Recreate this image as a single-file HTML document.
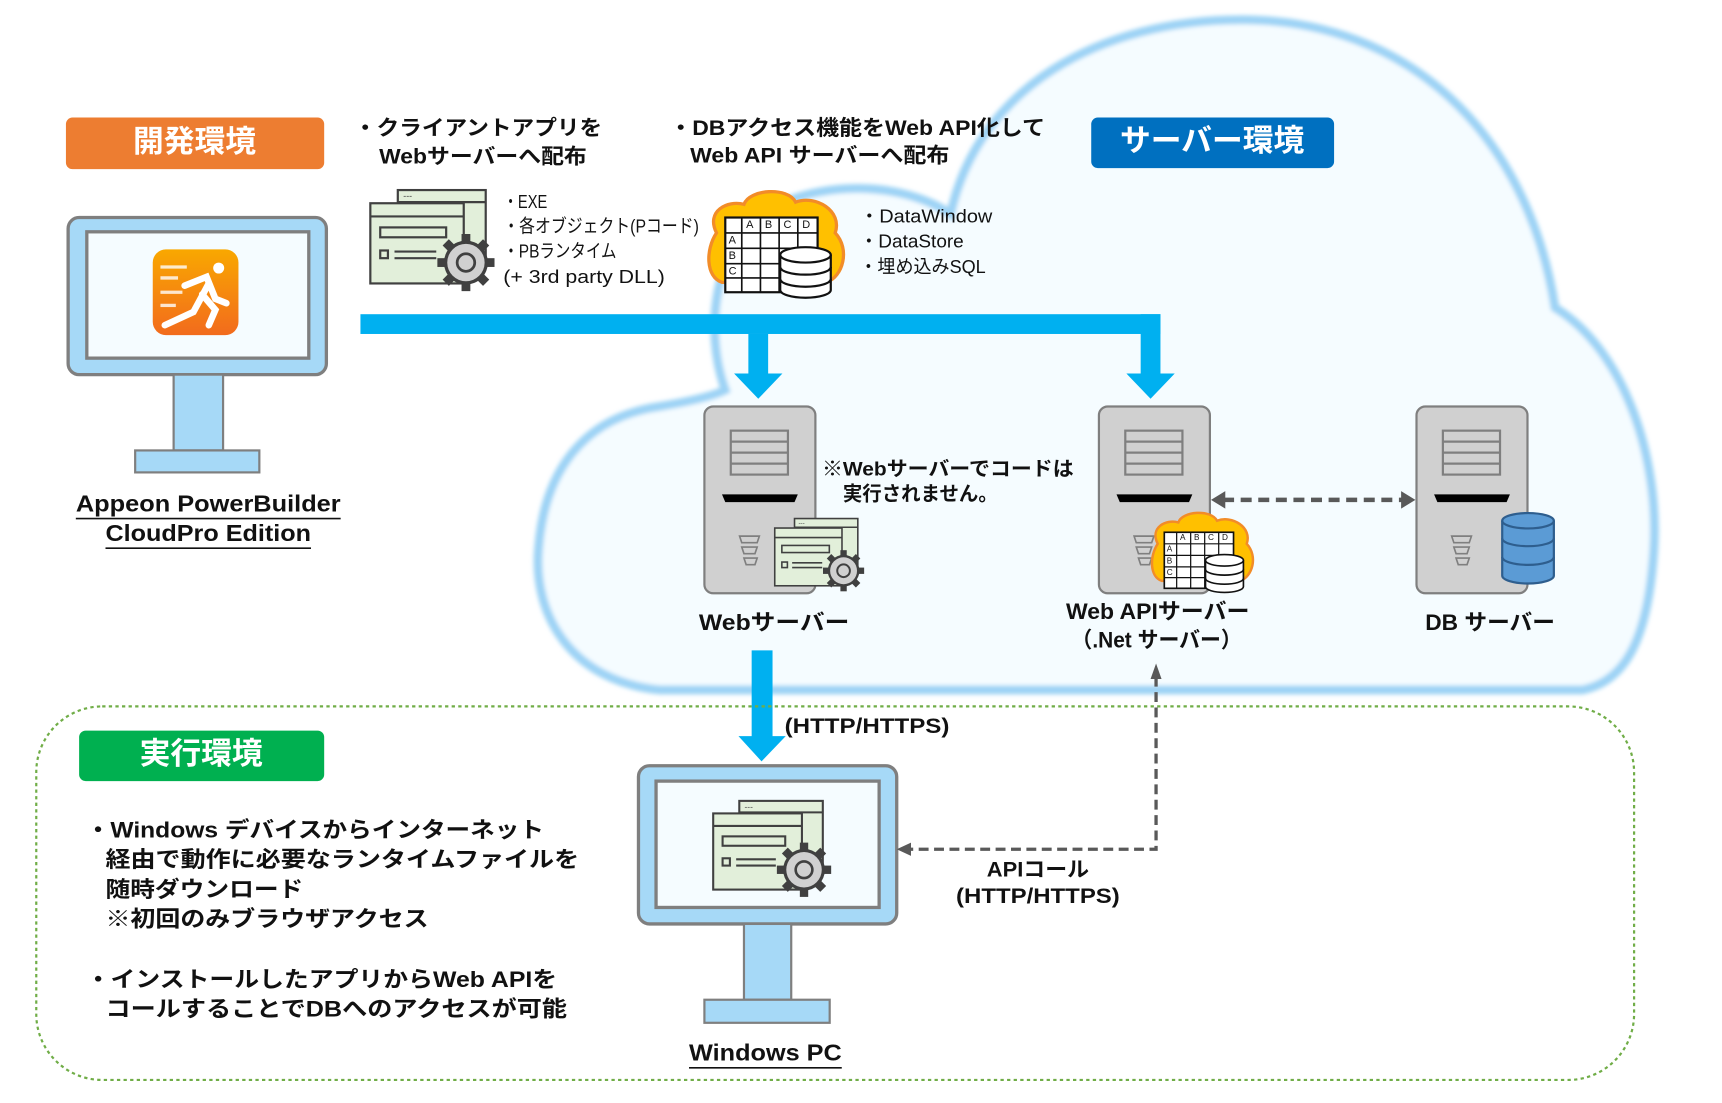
<!DOCTYPE html>
<html><head><meta charset="utf-8"><style>
html,body{margin:0;padding:0;background:#fff;}
svg{display:block;}
text{font-family:"Liberation Sans","Noto Sans CJK JP",sans-serif;fill:#111;dominant-baseline:middle;}
</style></head><body>
<svg width="1722" height="1103" viewBox="0 0 1567 1004" preserveAspectRatio="none" xmlns="http://www.w3.org/2000/svg">
<defs>
<filter id="bl" x="-5%" y="-5%" width="110%" height="110%"><feGaussianBlur stdDeviation="2"/></filter>
<linearGradient id="og" x1="0" y1="0" x2="0" y2="1"><stop offset="0" stop-color="#F9A800"/><stop offset="1" stop-color="#F26B1D"/></linearGradient>
<g id="app">
<rect x="25" y="0" width="80" height="70" fill="#E2EFDA" stroke="#404040" stroke-width="2"/>
<line x1="25" y1="11" x2="105" y2="11" stroke="#404040" stroke-width="2"/>
<text x="30" y="6" font-size="8" style="fill:#404040">---</text>
<rect x="0" y="12" width="85" height="73" fill="#E2EFDA" stroke="#404040" stroke-width="2"/>
<line x1="0" y1="24" x2="85" y2="24" stroke="#404040" stroke-width="2"/>
<rect x="9" y="34" width="60" height="9" fill="none" stroke="#404040" stroke-width="2"/>
<rect x="9" y="55" width="7" height="7" fill="none" stroke="#404040" stroke-width="2"/>
<line x1="22" y1="56" x2="60" y2="56" stroke="#404040" stroke-width="2"/>
<line x1="22" y1="62" x2="60" y2="62" stroke="#404040" stroke-width="2"/>
<g transform="translate(87,66)">
<circle r="20" fill="#404040"/>
<rect x="-4" y="-26" width="8" height="52" fill="#404040"/>
<rect x="-26" y="-4" width="52" height="8" fill="#404040"/>
<rect x="-4" y="-26" width="8" height="52" fill="#404040" transform="rotate(45)"/>
<rect x="-4" y="-26" width="8" height="52" fill="#404040" transform="rotate(-45)"/>
<circle r="17" fill="#D0D0D0"/>
<circle r="8" fill="none" stroke="#404040" stroke-width="2.5"/>
</g>
</g>
<g id="grid">
<path d="M10 40 C0 20,20 10,35 14 C40 0,75 -2,82 12 C100 5,125 20,118 40 C132 55,125 80,110 85 L15 85 C0 80,0 55,10 40Z" fill="#FFC000" stroke="#F28C28" stroke-width="3"/>
<rect x="18" y="26" width="84" height="68" fill="#fff" stroke="#111" stroke-width="2"/>
<g stroke="#111" stroke-width="1.5">
<line x1="18" y1="40" x2="102" y2="40"/><line x1="18" y1="54" x2="102" y2="54"/><line x1="18" y1="68" x2="102" y2="68"/><line x1="18" y1="81" x2="102" y2="81"/>
<line x1="33" y1="26" x2="33" y2="94"/><line x1="50" y1="26" x2="50" y2="94"/><line x1="67" y1="26" x2="67" y2="94"/><line x1="84" y1="26" x2="84" y2="94"/>
</g>
<text x="37" y="33" font-size="10">A</text><text x="54" y="33" font-size="10">B</text><text x="71" y="33" font-size="10">C</text><text x="88" y="33" font-size="10">D</text>
<text x="21" y="47" font-size="10">A</text><text x="21" y="61" font-size="10">B</text><text x="21" y="75" font-size="10">C</text>
<g fill="#fff" stroke="#111" stroke-width="2">
<path d="M68 60 L68 92 A23 7 0 0 0 114 92 L114 60"/>
<ellipse cx="91" cy="60" rx="23" ry="7"/>
<path d="M68 71 A23 7 0 0 0 114 71" fill="none"/><path d="M68 82 A23 7 0 0 0 114 82" fill="none"/>
</g>
</g>
<g id="srv">
<rect x="0" y="0" width="101" height="170" rx="8" fill="#D0D0D0" stroke="#7F7F7F" stroke-width="2"/>
<rect x="24" y="22" width="52" height="40" fill="#D0D0D0" stroke="#7F7F7F" stroke-width="2"/>
<line x1="24" y1="32" x2="76" y2="32" stroke="#7F7F7F" stroke-width="2"/><line x1="24" y1="42" x2="76" y2="42" stroke="#7F7F7F" stroke-width="2"/><line x1="24" y1="52" x2="76" y2="52" stroke="#7F7F7F" stroke-width="2"/>
<path d="M16 80 L85 80 L82 87 L19 87Z" fill="#000"/>
<path d="M32 118 L50 118 L48 124 L34 124Z M34 128 L48 128 L46 134 L36 134Z M36 138 L48 138 L46 144 L38 144Z" fill="none" stroke="#7F7F7F" stroke-width="1.5"/>
</g>
</defs>

<!-- cloud -->
<path d="M600 628 C520 620,485 560,490 500 C495 430,530 380,600 370 C630 365,650 360,660 355 C640 300,650 220,700 190 C760 160,830 170,865 195 C890 80,1000 18,1130 18 C1280 18,1390 120,1415 280 C1480 320,1510 420,1505 500 C1500 580,1480 620,1440 628 Z" fill="#F5FCFF" stroke="#9DD3F5" stroke-width="8" filter="url(#bl)"/>

<!-- labels -->
<rect x="60" y="107" width="235" height="47" rx="6" fill="#ED7D31"/>
<text x="177" y="131" font-size="28" font-weight="bold" text-anchor="middle" style="fill:#fff">開発環境</text>
<rect x="993" y="107" width="221" height="46" rx="6" fill="#0070C0"/>
<text x="1103" y="130" font-size="28" font-weight="bold" text-anchor="middle" style="fill:#fff">サーバー環境</text>
<rect x="72" y="665" width="223" height="46" rx="6" fill="#00B050"/>
<text x="183" y="688" font-size="28" font-weight="bold" text-anchor="middle" style="fill:#fff">実行環境</text>

<g font-size="19" font-weight="bold" lengthAdjust="spacingAndGlyphs">
<text x="322" y="118" textLength="226" lengthAdjust="spacingAndGlyphs">・クライアントアプリを</text>
<text x="345" y="144" textLength="189" lengthAdjust="spacingAndGlyphs">Webサーバーへ配布</text>
<text x="609" y="118" textLength="342" lengthAdjust="spacingAndGlyphs">・DBアクセス機能をWeb API化して</text>
<text x="628" y="143" textLength="236" lengthAdjust="spacingAndGlyphs">Web API サーバーへ配布</text>
</g>

<!-- dev monitor -->
<rect x="62" y="198" width="235" height="143" rx="10" fill="#A6D9F7" stroke="#7F7F7F" stroke-width="3"/>
<rect x="79" y="211" width="202" height="115" fill="#F5FCFF" stroke="#7F7F7F" stroke-width="3"/>
<rect x="158" y="341" width="45" height="69" fill="#A6D9F7" stroke="#7F7F7F" stroke-width="2"/>
<rect x="123" y="410" width="113" height="20" fill="#A6D9F7" stroke="#7F7F7F" stroke-width="2"/>
<rect x="139" y="227" width="78" height="78" rx="12" fill="url(#og)"/>
<g stroke="#fff" stroke-width="6" stroke-linecap="round" fill="none">
<circle cx="199" cy="244" r="5" fill="#fff" stroke="none"/>
<path d="M168 260 L188 252 L196 272 L206 276"/>
<path d="M190 258 L176 284 L150 296"/>
<path d="M184 268 L196 282 L190 296"/>
</g>
<g stroke="#fff" stroke-width="3" opacity=".8"><line x1="146" y1="243" x2="170" y2="243"/><line x1="146" y1="253" x2="162" y2="253"/><line x1="146" y1="266" x2="166" y2="266"/><line x1="146" y1="278" x2="160" y2="278"/></g>
<text x="69" y="460" font-size="21" font-weight="bold" textLength="241" lengthAdjust="spacingAndGlyphs">Appeon PowerBuilder</text>
<text x="96" y="487" font-size="21" font-weight="bold" textLength="187" lengthAdjust="spacingAndGlyphs">CloudPro Edition</text>
<line x1="69" y1="472" x2="310" y2="472" stroke="#111" stroke-width="1.5"/>
<line x1="96" y1="499" x2="283" y2="499" stroke="#111" stroke-width="1.5"/>

<!-- icons row -->
<use href="#app" transform="translate(337,173)"/>
<g font-size="17">
<text x="458" y="185" textLength="40" lengthAdjust="spacingAndGlyphs">・EXE</text>
<text x="458" y="207" textLength="178" lengthAdjust="spacingAndGlyphs">・各オブジェクト(Pコード)</text>
<text x="458" y="230" textLength="103" lengthAdjust="spacingAndGlyphs">・PBランタイム</text>
<text x="458" y="253" textLength="147" lengthAdjust="spacingAndGlyphs">(+ 3rd party DLL)</text>
<text x="782" y="198" textLength="121" lengthAdjust="spacingAndGlyphs">・DataWindow</text>
<text x="782" y="221" textLength="95" lengthAdjust="spacingAndGlyphs">・DataStore</text>
<text x="782" y="244" textLength="115" lengthAdjust="spacingAndGlyphs">・埋め込みSQL</text>
</g>
<use href="#grid" transform="translate(642,172)"/>

<!-- blue arrows -->
<g fill="#00B0F0">
<rect x="328" y="286" width="728" height="18"/>
<rect x="1038" y="286" width="18" height="56"/>
<path d="M1025 340 L1069 340 L1047 363Z"/>
<rect x="681" y="304" width="18" height="38"/>
<path d="M668 340 L712 340 L690 363Z"/>
<rect x="684" y="592" width="19" height="80"/>
<path d="M672 670 L715 670 L693 693Z"/>
</g>

<!-- servers -->
<use href="#srv" transform="translate(641,370)"/>
<use href="#app" transform="translate(705,472) scale(0.72)"/>
<use href="#srv" transform="translate(1000,370)"/>
<use href="#grid" transform="translate(1046,465) scale(0.75)"/>
<use href="#srv" transform="translate(1289,370)"/>
<g fill="#5B9BD5" stroke="#2E5E8E" stroke-width="2">
<path d="M1367 474 L1367 524 A23 7 0 0 0 1414 524 L1414 474"/>
<ellipse cx="1390.5" cy="474" rx="23.5" ry="7"/>
<path d="M1367 490 A23 7 0 0 0 1414 490 M1367 507 A23 7 0 0 0 1414 507" fill="none"/>
</g>
<line x1="1113" y1="455" x2="1277" y2="455" stroke="#595959" stroke-width="4" stroke-dasharray="10 6"/>
<path d="M1102 455 L1115 447 L1115 463Z M1288 455 L1275 447 L1275 463Z" fill="#595959"/>

<g font-size="18" font-weight="bold">
<text x="748" y="428" textLength="229" lengthAdjust="spacingAndGlyphs">※Webサーバーでコードは</text>
<text x="767" y="451" textLength="141" lengthAdjust="spacingAndGlyphs">実行されません。</text>
<text x="636" y="568" font-size="20" textLength="137" lengthAdjust="spacingAndGlyphs">Webサーバー</text>
<text x="970" y="558" font-size="20" textLength="167" lengthAdjust="spacingAndGlyphs">Web APIサーバー</text>
<text x="975" y="584" font-size="20" textLength="155" lengthAdjust="spacingAndGlyphs">（.Net サーバー）</text>
<text x="1297" y="568" font-size="20" textLength="118" lengthAdjust="spacingAndGlyphs">DB サーバー</text>
<text x="714" y="662" font-size="19" textLength="150" lengthAdjust="spacingAndGlyphs">(HTTP/HTTPS)</text>
</g>

<!-- runtime box -->
<rect x="33" y="643" width="1454" height="340" rx="60" fill="none" stroke="#70AD47" stroke-width="2" stroke-dasharray="3 3"/>
<g font-size="20" font-weight="bold">
<text x="78" y="757" textLength="417" lengthAdjust="spacingAndGlyphs">・Windows デバイスからインターネット</text>
<text x="96" y="784" textLength="431" lengthAdjust="spacingAndGlyphs">経由で動作に必要なランタイムファイルを</text>
<text x="96" y="811" textLength="180" lengthAdjust="spacingAndGlyphs">随時ダウンロード</text>
<text x="96" y="838" textLength="294" lengthAdjust="spacingAndGlyphs">※初回のみブラウザアクセス</text>
<text x="78" y="893" textLength="429" lengthAdjust="spacingAndGlyphs">・インストールしたアプリからWeb APIを</text>
<text x="96" y="920" textLength="420" lengthAdjust="spacingAndGlyphs">コールすることでDBへのアクセスが可能</text>
</g>

<!-- PC -->
<rect x="581" y="697" width="235" height="144" rx="10" fill="#A6D9F7" stroke="#7F7F7F" stroke-width="3"/>
<rect x="597" y="711" width="203" height="115" fill="#F5FCFF" stroke="#7F7F7F" stroke-width="3"/>
<rect x="677" y="841" width="43" height="69" fill="#A6D9F7" stroke="#7F7F7F" stroke-width="2"/>
<rect x="641" y="910" width="114" height="21" fill="#A6D9F7" stroke="#7F7F7F" stroke-width="2"/>
<use href="#app" transform="translate(649,729) scale(0.95)"/>
<text x="627" y="960" font-size="21" font-weight="bold" textLength="139" lengthAdjust="spacingAndGlyphs">Windows PC</text>
<line x1="627" y1="972" x2="766" y2="972" stroke="#111" stroke-width="1.5"/>

<!-- API dashed -->
<path d="M1052 616 L1052 773 L828 773" fill="none" stroke="#595959" stroke-width="3" stroke-dasharray="9 5"/>
<path d="M1052 604 L1047 618 L1057 618Z M816 773 L829 767 L829 779Z" fill="#595959"/>
<g font-size="19" font-weight="bold">
<text x="898" y="793" textLength="93" lengthAdjust="spacingAndGlyphs">APIコール</text>
<text x="870" y="817" textLength="149" lengthAdjust="spacingAndGlyphs">(HTTP/HTTPS)</text>
</g>
</svg>
</body></html>
